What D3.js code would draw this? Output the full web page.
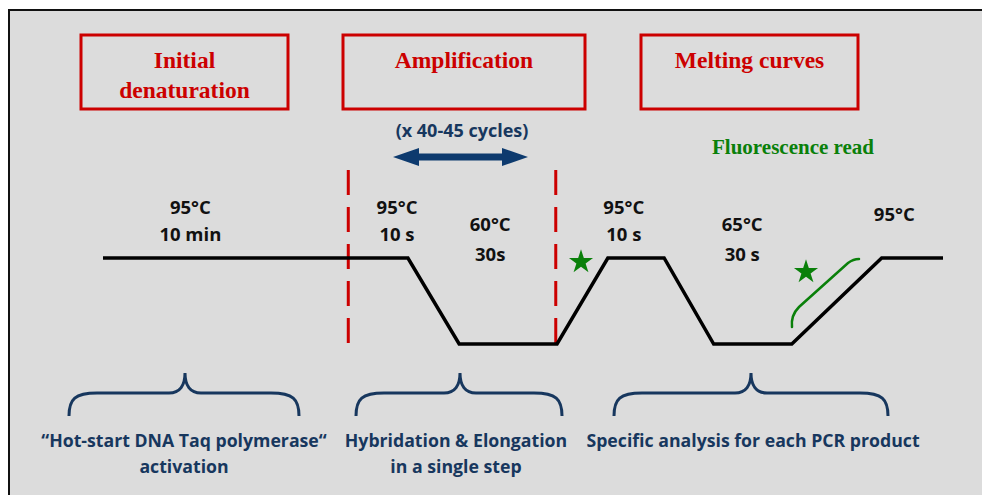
<!DOCTYPE html>
<html>
<head>
<meta charset="utf-8">
<script src="https://cdn.jsdelivr.net/npm/d3@7"></script>
<style>
  body{margin:0;background:#fff;}
  svg{display:block;}
</style>
</head>
<body>
<svg id="chart" width="982" height="495"></svg>
<script>
// ---- data ----
// schematic thermal profile: time (arbitrary units) and temperature level
var profileTime  = [0, 36.3, 42.4, 54.05, 60.1, 66.8, 72.7, 82.0, 92.7, 100];
var profileLevel = ["high","high","low","low","high","high","low","low","high","high"];
// amplification cycle limits (same time units)
var cycleLimits = [29.2, 53.9];
// step labels
var stepTemps = ["95°C","95°C","60°C","95°C","65°C","95°C"];
var stepTimes = ["10 min","10 s","30s","10 s","30 s",""];
var stepTime  = [10.4, 35.0, 46.1, 62.0, 76.1, 94.2];
var stepLift  = ["top","top","low","top","low","mid"];
// phases
var phaseTitles = [["Initial","denaturation"],["Amplification"],["Melting curves"]];
var phaseNotes  = [["\u201CHot-start DNA Taq polymerase\u201C","activation"],["Hybridation & Elongation","in a single step"],["Specific analysis for each PCR product"]];
var cycleNote = "(x 40-45 cycles)";
var readNote = "Fluorescence read";

// ---- layout ----
var svg = d3.select("#chart");
var red = "#cc0000", navy = "#17375e", green = "#0a800a";
var sansBold = "'Open Sans', 'DejaVu Sans', sans-serif";
var serif = "'Liberation Serif', 'DejaVu Serif', serif";

var x = d3.scaleLinear().domain([0,100]).range([103,943]);
var y = d3.scalePoint().domain(["high","low"]).range([258,344]);

// background panel
svg.append("rect").attr("x",9).attr("y",10).attr("width",1000).attr("height",500)
  .attr("fill","#dcdcdc").attr("stroke","#111").attr("stroke-width",2);

// phase boxes
var boxes = [[81,288],[343,585],[641,858]];
boxes.forEach(function(b,i){
  svg.append("rect").attr("x",b[0]).attr("y",35).attr("width",b[1]-b[0]).attr("height",74)
    .attr("fill","none").attr("stroke",red).attr("stroke-width",3);
  var t = svg.append("text").attr("text-anchor","middle").attr("fill",red)
    .attr("font-family",serif).attr("font-weight","bold").attr("font-size",23.5);
  phaseTitles[i].forEach(function(s,j){
    t.append("tspan").attr("x",(b[0]+b[1])/2).attr("y",68+j*30).text(s);
  });
});

// cycle note + double arrow
svg.append("text").attr("x",462).attr("y",137).attr("text-anchor","middle")
  .attr("fill",navy).attr("font-family",sansBold).attr("font-weight","bold").attr("font-size",18)
  .text(cycleNote);
var ax0 = 393, ax1 = 528, ay = 157, hl = 26, hh = 9, sh = 3.5;
svg.append("path").attr("fill","#0d3a6e")
  .attr("d", d3.line()([[ax0,ay],[ax0+hl,ay-hh],[ax0+hl,ay-sh],[ax1-hl,ay-sh],[ax1-hl,ay-hh],[ax1,ay],
                        [ax1-hl,ay+hh],[ax1-hl,ay+sh],[ax0+hl,ay+sh],[ax0+hl,ay+hh]]) + "Z");

// fluorescence read
svg.append("text").attr("x",793).attr("y",154).attr("text-anchor","middle")
  .attr("fill",green).attr("font-family",serif).attr("font-weight","bold").attr("font-size",21)
  .text(readNote);

// dashed cycle limits
svg.selectAll(".limit").data(cycleLimits).enter().append("line").attr("class","limit")
  .attr("x1",function(d){return x(d);}).attr("x2",function(d){return x(d);})
  .attr("y1",170).attr("y2",344)
  .attr("stroke",red).attr("stroke-width",3).attr("stroke-dasharray","25,12");

// thermal profile
var pts = profileTime.map(function(t,i){return [x(t), y(profileLevel[i])];});
svg.append("path").attr("d",d3.line()(pts)).attr("fill","none")
  .attr("stroke","#000").attr("stroke-width",3.5).attr("stroke-linejoin","miter");

// step labels
var liftY = {top:[214,241], low:[231,261], mid:[221,248]};
stepTemps.forEach(function(s,i){
  var g = svg.append("text").attr("text-anchor","middle").attr("fill","#111")
    .attr("font-family",sansBold).attr("font-weight","bold").attr("font-size",18.5);
  g.append("tspan").attr("x",x(stepTime[i])).attr("y",liftY[stepLift[i]][0]).text(s);
  if(stepTimes[i]) g.append("tspan").attr("x",x(stepTime[i])).attr("y",liftY[stepLift[i]][1]).text(stepTimes[i]);
});

// fluorescence stars
[[581,262],[806,272]].forEach(function(p){
  svg.append("path").attr("d",d3.symbol().type(d3.symbolStar).size(180)())
    .attr("transform","translate("+p[0]+","+p[1]+")").attr("fill",green);
});
// green bracket along melting ramp
svg.append("path").attr("fill","none").attr("stroke",green).attr("stroke-width",2.5).attr("stroke-linecap","round")
  .attr("d","M792,327 C791,318 794,312 799,307 L848,263 C852,260 855,259 859,259");

// braces
var braces = [[69,185,299],[356,460,562],[614,751,888]];
function bracePath(a,m,b){
  var yb = 416, yh = 393, yt = 373;
  return "M"+a+","+yb+" C"+a+","+(yh+6)+" "+(a+6)+","+yh+" "+(a+28)+","+yh+
         " L"+(m-16)+","+yh+" C"+(m-5)+","+yh+" "+m+","+(yh-8)+" "+m+","+yt+
         " C"+m+","+(yh-8)+" "+(m+5)+","+yh+" "+(m+16)+","+yh+
         " L"+(b-28)+","+yh+" C"+(b-6)+","+yh+" "+b+","+(yh+6)+" "+b+","+yb;
}
braces.forEach(function(br,i){
  svg.append("path").attr("d",bracePath(br[0],br[1],br[2])).attr("fill","none")
    .attr("stroke",navy).attr("stroke-width",3);
  var t = svg.append("text").attr("text-anchor","middle").attr("fill",navy)
    .attr("font-family",sansBold).attr("font-weight","bold").attr("font-size",17.7);
  phaseNotes[i].forEach(function(s,j){
    t.append("tspan").attr("x",[184,456,753][i]).attr("y",447+j*26).text(s);
  });
});
</script>
</body>
</html>
